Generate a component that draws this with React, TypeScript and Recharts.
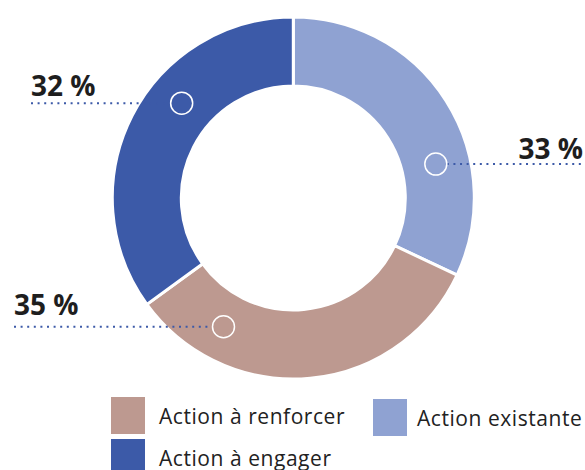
import { Legend, Pie, PieChart } from "recharts";

const categories = ["Action existante", "Action à renforcer", "Action à engager"];
const values = [32, 33, 35];
// textes affichés à côté des secteurs
const percentLabels = ["33 %", "35 %", "32 %"];
const colors = ["#8fa2d2", "#bd9990", "#3c5aa8"];
// position du repère dans le secteur (0 = début, 1 = fin)
const markerFractions = [0.665, 0.785, 0.606];

const legendOrder = [1, 2, 0];

type LabelLayout = { side: "left" | "right"; edge: number; dy: number };
const labelLayout: LabelLayout[] = [
  { side: "right", edge: 585, dy: -5 },
  { side: "left", edge: 14, dy: -12 },
  { side: "left", edge: 31, dy: -7 },
];

const chartData = categories.map((name, i) => ({
  name,
  value: values[i],
  fill: colors[i],
}));

const RAD = Math.PI / 180;

function renderLabel(props: any) {
  const { cx, cy, innerRadius, outerRadius, startAngle, endAngle, index } =
    props;
  const f = markerFractions[index];
  const angle = startAngle + (endAngle - startAngle) * f;
  const r = (innerRadius + outerRadius) / 2;
  const mx = cx + r * Math.cos(-angle * RAD);
  const my = cy + r * Math.sin(-angle * RAD);
  const lay = labelLayout[index];
  const markerR = 11;
  const x1 = lay.side === "right" ? mx + markerR : lay.edge;
  const x2 = lay.side === "right" ? lay.edge : mx - markerR;
  return (
    <g key={`lbl-${index}`}>
      <line
        x1={x1}
        y1={my}
        x2={x2}
        y2={my}
        stroke="#3c5aa8"
        strokeWidth={2}
        strokeDasharray="2 4.6"
      />
      <circle cx={mx} cy={my} r={markerR} fill="none" stroke="#fff" strokeWidth={1.5} />
      <text
        x={lay.side === "right" ? lay.edge - 2 : lay.edge}
        y={my + lay.dy}
        textAnchor={lay.side === "right" ? "end" : "start"}
        fill="#1e1e1e"
        fontFamily="'Open Sans', sans-serif"
        fontWeight={700}
        fontSize={28}
      >
        {percentLabels[index]}
      </text>
    </g>
  );
}

function LegendContent() {
  const pos = [
    { left: 111, top: 397, gap: 14 },
    { left: 111, top: 439, gap: 14 },
    { left: 373, top: 399, gap: 10 },
  ];
  return (
    <div style={{ position: "relative", width: 585, height: 80 }}>
      {legendOrder.map((ci, i) => (
        <div
          key={categories[ci]}
          style={{
            position: "absolute",
            left: pos[i].left,
            top: pos[i].top - 390,
            display: "flex",
            alignItems: "center",
            fontFamily: "'Open Sans', sans-serif",
            fontSize: 21,
            letterSpacing: 0.55,
            color: "#222",
            whiteSpace: "nowrap",
          }}
        >
          <span
            style={{
              display: "inline-block",
              width: 34,
              height: 37,
              background: colors[ci],
              marginRight: pos[i].gap,
            }}
          />
          {categories[ci]}
        </div>
      ))}
    </div>
  );
}

export default function App() {
  return (
    <div style={{ position: "absolute", left: 0, top: 0, width: 585, height: 470, overflow: "hidden", background: "#fff" }}>
      <PieChart width={585} height={470} margin={{ top: 0, right: 0, bottom: 0, left: 0 }}>
        <Pie
          data={chartData}
          dataKey="value"
          nameKey="name"
          cx={293.3}
          cy={198}
          innerRadius={112}
          outerRadius={181}
          startAngle={90}
          endAngle={-270}
          stroke="#fff"
          strokeWidth={3}
          label={renderLabel}
          labelLine={false}
          isAnimationActive={false}
        />
        <Legend
          content={<LegendContent />}
          wrapperStyle={{ position: "absolute", left: 0, top: 390, width: 585, height: 80 }}
        />
      </PieChart>
    </div>
  );
}
